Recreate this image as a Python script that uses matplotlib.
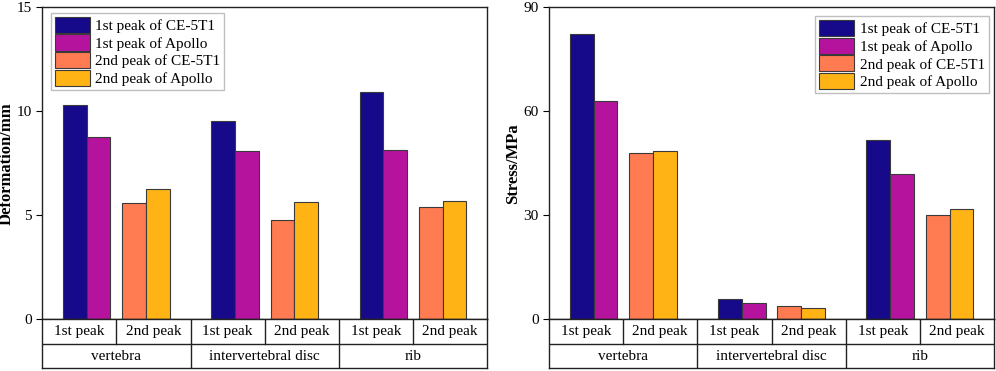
"""
Peak deformation and stress for CE-5T1 vs Apollo
"""

import numpy as np
import matplotlib.pyplot as plt

plt.rcParams['font.family'] = ['Liberation Serif', 'DejaVu Serif']

# -----------------------------
# Data
# -----------------------------

parts = ["vertebra", "intervertebral disc", "rib"]
peaks = ["1st peak", "2nd peak"]
series_labels = ["1st peak of CE-5T1", "1st peak of Apollo",
                 "2nd peak of CE-5T1", "2nd peak of Apollo"]

deform_ce1 = [10.30, 9.54, 10.95]
deform_ap1 = [8.75, 8.11, 8.13]
deform_ce2 = [5.61, 4.78, 5.38]
deform_ap2 = [6.27, 5.64, 5.71]

stress_ce1 = [82.4, 5.9, 51.7]
stress_ap1 = [62.9, 4.8, 42.0]
stress_ce2 = [47.9, 3.7, 30.1]
stress_ap2 = [48.6, 3.2, 31.7]

colors = ["#170A8A", "#B5139E", "#FF7B52", "#FFB315"]

# -----------------------------
# Layout
# -----------------------------

W, H = 996, 371
BAR_W = 0.32
OFFSETS = [-0.56, -0.24, 0.24, 0.56]


def draw_panel(fig, box, values, ylim, yticks, ylabel, legend_loc, legend_anchor):
    x0, x1, ytop, yzero, ybot = box
    ax = fig.add_axes([x0 / W, 1 - yzero / H, (x1 - x0) / W, (yzero - ytop) / H])
    tab = fig.add_axes([x0 / W, 1 - ybot / H, (x1 - x0) / W, (ybot - yzero) / H])

    centers = np.arange(len(parts)) * 2 + 1.0
    for k, vals in enumerate(values):
        ax.bar(centers + OFFSETS[k], vals, width=BAR_W, color=colors[k],
               edgecolor="#3a3a3a", linewidth=0.8, label=series_labels[k], zorder=2)

    ax.set_xlim(0, 2 * len(parts))
    ax.set_ylim(*ylim)
    ax.set_yticks(yticks)
    ax.set_xticks([])
    ax.tick_params(axis="y", direction="out", length=4, width=0.8,
                   labelsize=11, right=False)
    for s in ax.spines.values():
        s.set_linewidth(1.0)
        s.set_color("#222222")
    ax.set_ylabel(ylabel, fontsize=12, fontweight="bold")
    ax.yaxis.set_label_coords(-0.063, 0.5)

    leg = ax.legend(loc=legend_loc, bbox_to_anchor=legend_anchor, fontsize=11,
                    frameon=True, fancybox=False, handlelength=2.3,
                    handleheight=1.25, labelspacing=0.1, handletextpad=0.35,
                    borderpad=0.25, borderaxespad=0.0)
    leg.get_frame().set_edgecolor("#b0b0b0")
    leg.get_frame().set_linewidth(1.0)

    # two-row category table beneath the axis
    tab.set_xlim(0, 2 * len(parts))
    tab.set_ylim(0, 2)
    tab.set_xticks([])
    tab.set_yticks([])
    for s in tab.spines.values():
        s.set_linewidth(1.0)
        s.set_color("#222222")
    tab.axhline(1, color="#222222", lw=1.0)
    for i in range(1, 2 * len(parts)):
        if i % 2 == 0:
            tab.plot([i, i], [0, 2], color="#222222", lw=1.0)
        else:
            tab.plot([i, i], [1, 2], color="#222222", lw=1.0)
    for i in range(2 * len(parts)):
        tab.text(i + 0.5, 1.5, peaks[i % 2], ha="center", va="center", fontsize=11)
    for j, name in enumerate(parts):
        tab.text(2 * j + 1, 0.5, name, ha="center", va="center", fontsize=11)
    return ax


fig = plt.figure(figsize=(W / 100, H / 100), dpi=100)

draw_panel(fig, (42.3, 487.0, 7.3, 319.3, 368.3),
           [deform_ce1, deform_ap1, deform_ce2, deform_ap2],
           (0, 15), [0, 5, 10, 15], "Deformation/mm",
           "upper left", (0.02, 0.982))

draw_panel(fig, (549.0, 994.0, 7.3, 319.3, 368.3),
           [stress_ce1, stress_ap1, stress_ce2, stress_ap2],
           (0, 90), [0, 30, 60, 90], "Stress/MPa",
           "upper right", (0.988, 0.972))

plt.savefig("out.png", dpi=100)
plt.close(fig)
